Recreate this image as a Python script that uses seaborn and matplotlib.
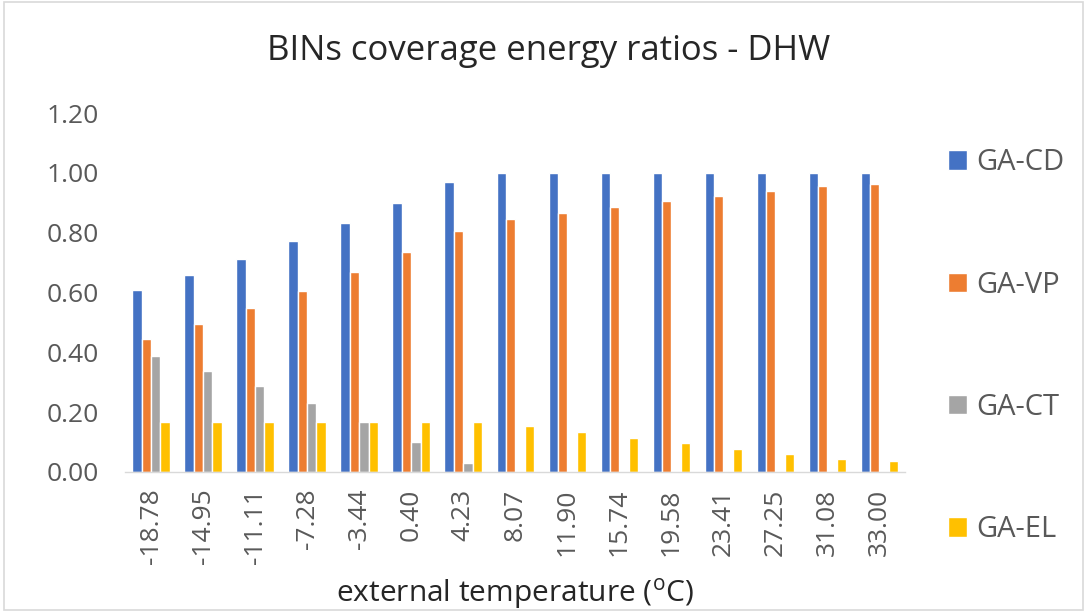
import matplotlib
matplotlib.use("Agg")
import matplotlib.pyplot as plt
import seaborn as sns
import pandas as pd

# Temperature bins (°C) and coverage energy ratios per system
temperatures = ["-18.78", "-14.95", "-11.11", "-7.28", "-3.44", "0.40", "4.23",
                "8.07", "11.90", "15.74", "19.58", "23.41", "27.25", "31.08", "33.00"]
ga_cd = [0.61, 0.66, 0.713, 0.773, 0.834, 0.898, 0.971, 1.00, 1.00, 1.00, 1.00, 1.00, 1.00, 1.00, 1.00]
ga_vp = [0.445, 0.495, 0.547, 0.604, 0.669, 0.734, 0.805, 0.847, 0.867, 0.887, 0.906, 0.923, 0.94, 0.955, 0.964]
ga_ct = [0.389, 0.339, 0.288, 0.231, 0.166, 0.101, 0.028, 0.0, 0.0, 0.0, 0.0, 0.0, 0.0, 0.0, 0.0]
ga_el = [0.166, 0.166, 0.166, 0.166, 0.166, 0.166, 0.166, 0.153, 0.133, 0.113, 0.096, 0.076, 0.059, 0.044, 0.036]

series = {"GA-CD": ga_cd, "GA-VP": ga_vp, "GA-CT": ga_ct, "GA-EL": ga_el}
palette = ["#4472C4", "#ED7D31", "#A5A5A5", "#FFC000"]

df = pd.DataFrame(
    [(t, name, v) for name, vals in series.items() for t, v in zip(temperatures, vals)],
    columns=["temperature", "system", "ratio"],
)

sns.set_theme(style="white")
plt.rcParams["font.family"] = ["Open Sans", "DejaVu Sans"]
plt.rcParams["mathtext.fontset"] = "custom"
plt.rcParams["mathtext.rm"] = "Open Sans"

fig = plt.figure(figsize=(10.87, 6.12), dpi=100)
ax = fig.add_axes([0.115, 0.229, 0.718, 0.586])

sns.barplot(data=df, x="temperature", y="ratio", hue="system", order=temperatures,
            hue_order=list(series.keys()), palette=palette, saturation=1, width=0.72,
            edgecolor="white", linewidth=1.0, ax=ax, legend=True)

ax.set_ylim(0, 1.2)
ax.set_yticks([0, 0.2, 0.4, 0.6, 0.8, 1.0, 1.2])
ax.set_yticklabels([f"{v:.2f}" for v in ax.get_yticks()])
ax.set_xlim(-0.5, len(temperatures) - 0.5)
ax.tick_params(axis="y", labelsize=19, colors="#595959", length=0, pad=19)
ax.tick_params(axis="x", labelsize=19, colors="#595959", length=0, rotation=90, pad=12)

for side in ["top", "right", "left"]:
    ax.spines[side].set_visible(False)
ax.spines["bottom"].set_color("#D9D9D9")
ax.spines["bottom"].set_linewidth(1.0)

ax.set_xlabel(r"external temperature ($^{\mathrm{o}}$C)", fontsize=21.5, color="#262626", labelpad=9)
ax.set_ylabel("")

fig.suptitle("BINs coverage energy ratios - DHW", x=0.505, y=0.945, fontsize=25, color="#262626")

leg = ax.legend(loc="upper left", bbox_to_anchor=(1.04, 0.935), frameon=False,
                fontsize=21, labelspacing=3.2, handlelength=0.65, handleheight=0.65,
                handletextpad=0.3, borderaxespad=0)
for t in leg.get_texts():
    t.set_color("#595959")

# Light chart-area border
fig.patches.append(plt.Rectangle((0.004, 0.004), 0.992, 0.992, transform=fig.transFigure,
                                 fill=False, edgecolor="#D9D9D9", linewidth=1.2))

fig.savefig("out.png", dpi=100)
